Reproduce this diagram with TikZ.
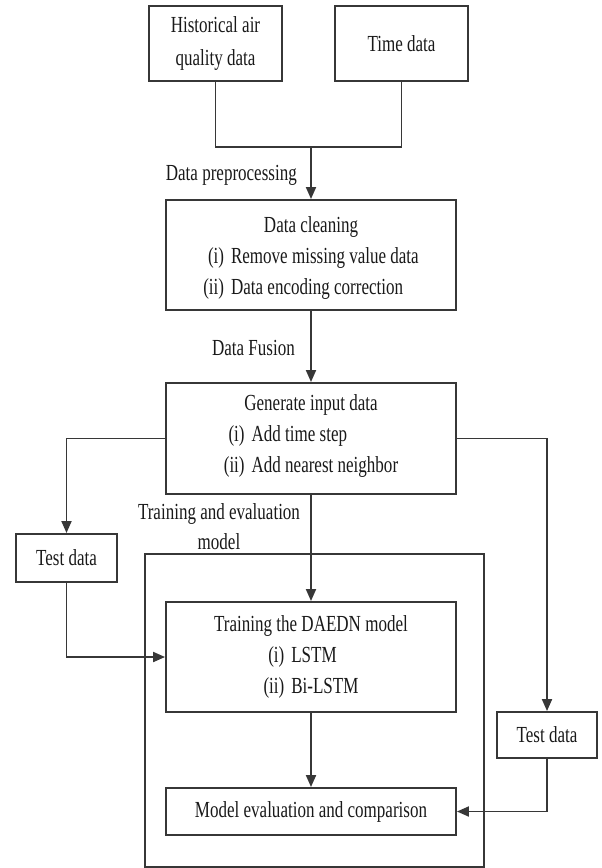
\documentclass[tikz,border=0pt]{standalone}
\usepackage{fontspec}
\setmainfont{Liberation Serif}[FakeStretch=0.74]
\usepackage{tikz}
\usetikzlibrary{arrows.meta, positioning, calc}
\definecolor{lineGray}{RGB}{55, 55, 55}
\definecolor{textGray}{RGB}{25, 25, 25}

\begin{document}
\begin{tikzpicture}[x=1pt, y=-1pt,
  box/.style={draw=lineGray, line width=1.9pt, align=center, inner sep=0pt, text=textGray, font=\fontsize{23}{31}\selectfont},
  lbl/.style={align=center, inner sep=0pt, text=textGray, font=\fontsize{23}{30}\selectfont},
  link/.style={draw=lineGray, line width=1.9pt},
  arrowline/.style={link, -{Triangle[length=12pt, width=10pt]}}]
  \useasboundingbox (0,0) rectangle (602,868);

  % input data
  \node[box, minimum width=133pt, minimum height=75pt] (hist) at (215.5,43.5) {Historical air\\[2pt]quality data};
  \node[box, minimum width=133pt, minimum height=75pt] (time) at (401.5,43.5) {Time data};
  \coordinate (join) at (311,147);

  % preprocessing
  \node[box, minimum width=290pt, minimum height=110pt] (clean) at (311,255) {\rule{0pt}{27pt}Data cleaning\\
    \begin{tabular}[t]{@{}r@{\hspace{7pt}}l@{}}(i) & Remove missing value data\\(ii) & Data encoding correction\end{tabular}};
  \node[box, minimum width=290pt, minimum height=111pt] (gen) at (311,438.5) {Generate input data\\
    \begin{tabular}[t]{@{}r@{\hspace{7pt}}l@{}}(i) & Add time step\\(ii) & Add nearest neighbor\end{tabular}};

  % training and evaluation
  \node[box, minimum width=339pt, minimum height=313pt] (frame) at (314.5,710.5) {};
  \node[box, minimum width=290pt, minimum height=110pt] (train) at (311,657) {\rule{0pt}{21pt}Training the DAEDN model\\
    \begin{tabular}[t]{@{}r@{\hspace{7pt}}l@{}}(i) & LSTM\\(ii) & Bi-LSTM\end{tabular}};
  \node[box, minimum width=290pt, minimum height=47pt] (eval) at (311,811.5) {Model evaluation and comparison};
  \node[box, minimum width=101pt, minimum height=48pt] (testL) at (66.5,558) {Test data};
  \node[box, minimum width=100pt, minimum height=46pt] (testR) at (547,735) {Test data};

  % labels
  \node[lbl, anchor=east] (prep) at (297,175) {Data preprocessing};
  \node[lbl, anchor=east] (fusion) at (295,348) {Data Fusion};
  \node[lbl] (trainlbl) at (219,527) {Training and evaluation\\model};

  % connectors
  \draw[link] (hist.south) |- (join) -| (time.south);
  \draw[arrowline] (join) -- (clean.north);
  \draw[arrowline] (clean.south) -- (gen.north);
  \draw[arrowline] (gen.west) -| (testL.north);
  \draw[arrowline] (gen.east) -| (testR.north);
  \draw[arrowline] (gen.south) -- (train.north);
  \draw[arrowline] (testL.south) |- (train.west);
  \draw[arrowline] (train.south) -- (eval.north);
  \draw[arrowline] (testR.south) |- (eval.east);
\end{tikzpicture}
\end{document}
